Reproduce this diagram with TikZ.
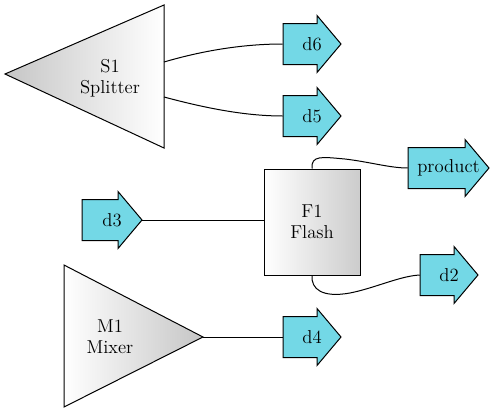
\documentclass[tikz,border=0pt]{standalone}
\definecolor{strmfill}{RGB}{115,216,230}
\tikzset{
  lbl/.style={font=\rmfamily\fontsize{14}{15.5}\selectfont, align=center, inner sep=0pt},
  conn/.style={draw=black, line width=0.75pt},
  unitline/.style={draw=black, line width=0.75pt},
}
\newcommand\streamarrow[5]{%
  \filldraw[fill=strmfill, unitline] (#2,#3) ++(0,-20.5) -- ++(#4,0) -- ++(0,-8) -- ++(24,28.5) -- ++(-24,28.5) -- ++(0,-8) -- ++(-#4,0) -- cycle;
  \node[lbl, minimum width={(#4+24)*0.75pt}] (#1) at ({#2+(#4+24)/2},#3) {#5};
}
\begin{document}
\begin{tikzpicture}[x=0.75pt,y=-0.75pt]
\useasboundingbox (0,0) rectangle (495,414);
% Splitter
\shade[unitline, left color=gray!45, right color=white] (5,74) -- (164,5) -- (164,148) -- cycle;
\node[lbl] (S1) at (110,78) {S1\\Splitter};
\coordinate (S1a) at (164,62);
\coordinate (S1b) at (164,97);
% Mixer
\shade[unitline, left color=white, right color=gray!45] (64,265) -- (203,337) -- (64,407) -- cycle;
\node[lbl] (M1) at (110,337) {M1\\Mixer};
\coordinate (M1out) at (203,337);
% Flash
\node[lbl, draw=black, line width=0.75pt, left color=white, right color=gray!40,
      minimum width=72pt, minimum height=79.5pt] (F1) at (312,222) {F1\\Flash};
% streams
\streamarrow{d6}{283}{44}{34}{d6}
\streamarrow{d5}{283}{116}{34}{d5}
\streamarrow{product}{408}{168}{57}{product}
\streamarrow{d3}{82}{220}{36}{d3}
\streamarrow{d2}{420}{275}{34}{d2}
\streamarrow{d4}{283}{337}{34}{d4}
% connectors
\draw[conn] (S1a) .. controls (205,50) and (245,44) .. (d6.west);
\draw[conn] (S1b) .. controls (205,108) and (245,116) .. (d5.west);
\draw[conn] (F1.north) .. controls (311,155) and (322,157) .. (345,159) .. controls (370,162) and (390,168) .. (product.west);
\draw[conn] (F1.south) .. controls (311,289) and (322,298) .. (350,293) .. controls (375,288) and (400,276) .. (d2.west);
\draw[conn] (d3.east) -- (d3.east -| F1.west);
\draw[conn] (M1out) -- (d4.west);
\end{tikzpicture}
\end{document}
